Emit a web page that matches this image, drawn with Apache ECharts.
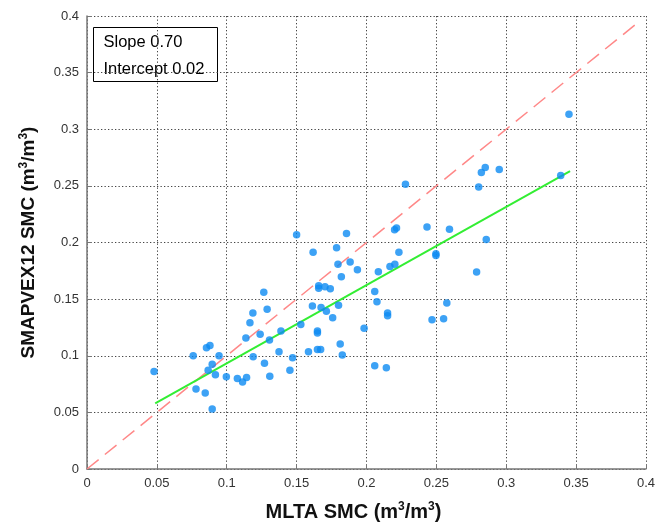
<!DOCTYPE html>
<html>
<head>
<meta charset="utf-8">
<script src="https://cdn.jsdelivr.net/npm/echarts@6/dist/echarts.min.js"></script>
<style>
  html, body { margin: 0; padding: 0; background: #fff; }
  #chart { width: 658px; height: 527px; }
</style>
</head>
<body>
<div id="chart"></div>
<script>
// MLTA SMC (x) vs SMAPVEX12 SMC (y)
const mltaSmc = [
  0.048, 0.076, 0.0855, 0.088, 0.0945, 0.0896, 0.0867, 0.0919, 0.078, 0.0846,
  0.0896, 0.0997, 0.1076, 0.1113, 0.1142, 0.1189, 0.127, 0.1308, 0.1137, 0.1166,
  0.1187, 0.1239, 0.1265, 0.1289, 0.1306, 0.1388, 0.1374, 0.1471, 0.1452, 0.153,
  0.1585, 0.150, 0.2279, 0.1857, 0.1618, 0.1786, 0.1796, 0.1883, 0.1935, 0.182,
  0.1658, 0.1658, 0.1703, 0.1741, 0.1613, 0.1675, 0.180, 0.2201, 0.2215, 0.2433,
  0.2594, 0.2232, 0.2168, 0.2203, 0.2085, 0.2497, 0.2497, 0.2059, 0.2075, 0.2575,
  0.1713, 0.1758, 0.1649, 0.1649, 0.1812, 0.1983, 0.1649, 0.1672, 0.1827, 0.2151,
  0.2151, 0.2469, 0.2552, 0.2059, 0.2142, 0.3449, 0.2822, 0.285, 0.295, 0.2803,
  0.339, 0.2857, 0.2788
];
const smapvexSmc = [
  0.086, 0.100, 0.107, 0.109, 0.100, 0.0924, 0.0871, 0.0833, 0.0706, 0.067,
  0.053, 0.0815, 0.080, 0.0768, 0.0809, 0.0991, 0.0933, 0.0818, 0.1156, 0.1291,
  0.1377, 0.1189, 0.156, 0.141, 0.1139, 0.1218, 0.1035, 0.0982, 0.0871, 0.1277,
  0.1035, 0.2068, 0.2515, 0.208, 0.1915, 0.1953, 0.1807, 0.1827, 0.1759, 0.1697,
  0.1618, 0.1597, 0.1609, 0.1591, 0.1439, 0.1427, 0.1447, 0.2112, 0.2127, 0.2136,
  0.2118, 0.1915, 0.1789, 0.1807, 0.1741, 0.190, 0.1886, 0.1568, 0.1477, 0.1465,
  0.1394, 0.1335, 0.1218, 0.120, 0.1103, 0.1242, 0.1056, 0.1056, 0.1006, 0.1377,
  0.1353, 0.1318, 0.1327, 0.0912, 0.0894, 0.3133, 0.2619, 0.2663, 0.2645, 0.2489,
  0.2592, 0.2027, 0.1739
];

// 1:1 line and fitted line end points
const oneToOneX = [0, 0.395];
const oneToOneY = [0, 0.395];
const fitX = [0.0488, 0.3457];
const fitY = [0.058, 0.263];

const tickLabels = ["0", "0.05", "0.1", "0.15", "0.2", "0.25", "0.3", "0.35", "0.4"];
const statLines = ["Slope 0.70", "Intercept 0.02"];

const labelFont = '"Liberation Sans", Arial, sans-serif';

function tickFormatter(value) {
  const idx = Math.round(value / 0.05);
  return tickLabels[idx] !== undefined ? tickLabels[idx] : "";
}

function nameRich(size) {
  return {
    a: { fontFamily: labelFont, fontWeight: "bold", fontSize: size, color: "#111" },
    s: {
      fontFamily: labelFont, fontWeight: "bold", fontSize: Math.round(size * 0.62), color: "#111",
      verticalAlign: "top", padding: [0, 0, Math.round(size * 0.5), 0],
    },
  };
}

function makeAxis(nameText, nameGap, nameSize, namePad) {
  return {
    type: "value",
    min: 0,
    max: 0.4,
    interval: 0.05,
    name: nameText,
    nameLocation: "middle",
    nameGap: nameGap,
    nameTextStyle: { rich: nameRich(nameSize), padding: namePad },
    axisLine: { show: true, onZero: false, lineStyle: { color: "#777", width: 1.5 } },
    axisTick: { show: true, inside: true, length: 5, lineStyle: { color: "#777" } },
    axisLabel: {
      formatter: tickFormatter,
      fontFamily: labelFont,
      fontSize: 13,
      color: "#333",
      margin: 8,
    },
    splitLine: {
      show: true,
      lineStyle: { color: "#444", width: 1, type: [1.3, 2.2] },
    },
  };
}

const chart = echarts.init(document.getElementById("chart"), null, { renderer: "canvas" });

const option = {
  animation: false,
  backgroundColor: "#fff",
  grid: { left: 87, right: 4, top: 16, bottom: 57, containLabel: false },
  xAxis: makeAxis("{a|MLTA SMC (m}{s|3}{a|/m}{s|3}{a|)}", 32, 20, [0, 26, 0, 0]),
  yAxis: makeAxis("{a|SMAPVEX12 SMC (m}{s|3}{a|/m}{s|3}{a|)}", 47, 19, [0, 0, 0, 0]),
  series: [
    {
      type: "line",
      data: oneToOneX.map((x, i) => [x, oneToOneY[i]]),
      symbol: "none",
      lineStyle: { color: "#f88", width: 1.5, type: [15, 8] },
      z: 2,
    },
    {
      type: "line",
      data: fitX.map((x, i) => [x, fitY[i]]),
      symbol: "none",
      lineStyle: { color: "#33ee33", width: 2 },
      z: 3,
    },
    {
      type: "scatter",
      data: mltaSmc.map((x, i) => [x, smapvexSmc[i]]),
      symbol: "circle",
      symbolSize: 7.5,
      itemStyle: { color: "#0d8bf2" },
      z: 4,
    },
  ],
  graphic: [
    {
      type: "group",
      left: 93,
      top: 27,
      children: [
        {
          type: "rect",
          shape: { x: 0, y: 0, width: 124, height: 54 },
          style: { fill: "#fff", stroke: "#000", lineWidth: 1 },
        },
        {
          type: "text",
          x: 10,
          y: 15,
          style: { text: statLines[0], font: "16.5px " + labelFont, fill: "#000", verticalAlign: "middle" },
        },
        {
          type: "text",
          x: 10,
          y: 42,
          style: { text: statLines[1], font: "16.5px " + labelFont, fill: "#000", verticalAlign: "middle" },
        },
      ],
    },
  ],
};

chart.setOption(option);
</script>
</body>
</html>
